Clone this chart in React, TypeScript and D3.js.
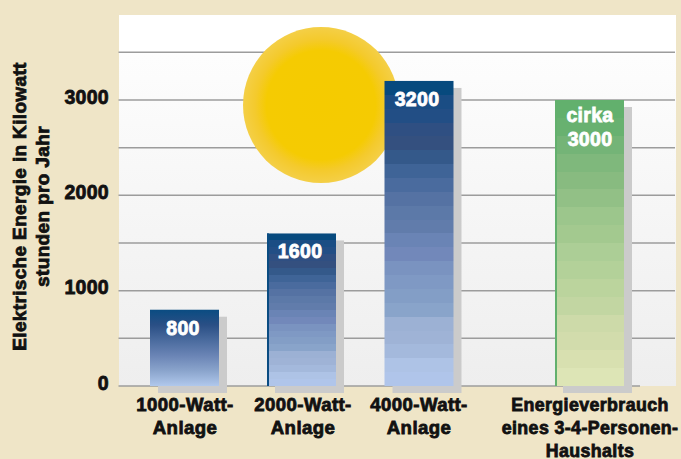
import React from "react";
import * as d3 from "d3";

const WIDTH = 681;
const HEIGHT = 459;

// Yearly output of three PV system sizes against household consumption (kWh)
const categories = ["1000-Watt", "2000-Watt", "4000-Watt", "Verbrauch"];
const values = [800, 1600, 3200, 3000];
const valueLabels = [["800"], ["1600"], ["3200"], ["cirka", "3000"]];
const categoryLabels = [
  ["1000-Watt-", "Anlage"],
  ["2000-Watt-", "Anlage"],
  ["4000-Watt-", "Anlage"],
  ["Energieverbrauch", "eines 3-4-Personen-", "Haushalts"],
];
const categoryFontSizes = [18.6, 18.6, 18.6, 17.8];
const axisTicks = [0, 1000, 2000, 3000];
const gridStep = 500;
const gridMax = 3500;
const axisTitle = ["Elektrische Energie in Kilowatt", "stunden pro Jahr"];

const blueBands = [
  "#074a7e", "#1a4d84", "#224e85", "#2f4f82", "#34507f", "#34598a", "#3f6497", "#4a6b9e",
  "#5572a3", "#5c79a8", "#617cab", "#6a84b5", "#7288ba", "#7a93c0", "#7f99c4", "#839ec6",
  "#89a4ca", "#9cb1d4", "#9fb3d6", "#a4b9dc", "#aec3e6", "#b0c5ea",
];
const blueSmooth = ["#0a4c82", "#2a4f85", "#4a6b9e", "#6a84b5", "#8aa4cc", "#b0c8ec"];
const greenBands = [
  "#62b06d", "#68b170", "#74b477", "#7fb87c", "#88bb80", "#92c086", "#9cc68c", "#a3c98f",
  "#acce96", "#b3d199", "#bbd49d", "#c2d6a2", "#cddaa9", "#d2dcac", "#d8e0b0", "#dde5b6",
];
const barFills = ["url(#blueSoft)", "url(#blueSteps)", "url(#blueSteps)", "url(#greenSteps)"];
const barEdges = [null, "#0a4c82", null, "#62b06d"];

const yScale = d3.scaleLinear().domain([0, 3000]).range([386, 100]);
const xScale = d3.scaleOrdinal<string, number>().domain(categories).range([184.5, 301.5, 419, 589.5]);
const labelX = d3.scaleOrdinal<string, number>().domain(categories).range([185, 303, 419, 590]);
const valueX = d3.scaleOrdinal<string, number>().domain(categories).range([183, 300, 417, 590]);
const barWidth = 69;

const font = "'Liberation Sans', Arial, sans-serif";
const heavy = (fill: string, size: number): React.CSSProperties => ({
  fontFamily: font,
  fontWeight: 700,
  fontSize: size,
  fill,
  stroke: fill,
  strokeWidth: 0.8,
  paintOrder: "stroke",
});

function Steps({ id, colors }: { id: string; colors: string[] }) {
  const edge = d3.scaleLinear().domain([0, colors.length]).range([0, 100]);
  return (
    <linearGradient id={id} x1="0" y1="0" x2="0" y2="1">
      {colors.flatMap((c, i) => [
        <stop key={`${i}a`} offset={`${edge(i)}%`} stopColor={c} />,
        <stop key={`${i}b`} offset={`${edge(i + 1)}%`} stopColor={c} />,
      ])}
    </linearGradient>
  );
}

function Smooth({ id, colors }: { id: string; colors: string[] }) {
  const at = d3.scaleLinear().domain([0, colors.length - 1]).range([0, 100]);
  return (
    <linearGradient id={id} x1="0" y1="0" x2="0" y2="1">
      {colors.map((c, i) => (
        <stop key={c} offset={`${at(i)}%`} stopColor={c} />
      ))}
    </linearGradient>
  );
}

export default function App() {
  const gridValues = d3.range(0, gridMax + 1, gridStep);
  return (
    <svg
      width={WIDTH}
      height={HEIGHT}
      viewBox={`0 0 ${WIDTH} ${HEIGHT}`}
      style={{ position: "fixed", left: 0, top: 0, display: "block" }}
    >
      <defs>
        <linearGradient id="panel" x1="0" y1="0" x2="0" y2="1">
          <stop offset="0%" stopColor="#ffffff" />
          <stop offset="10%" stopColor="#ffffff" />
          <stop offset="11%" stopColor="#fdfdfd" />
          <stop offset="100%" stopColor="#eeeeee" />
        </linearGradient>
        <radialGradient id="sun" cx="50%" cy="50%" r="50%">
          <stop offset="0%" stopColor="#f5cb00" />
          <stop offset="70%" stopColor="#f5cb02" />
          <stop offset="84%" stopColor="#f4ca2c" />
          <stop offset="100%" stopColor="#f4cf47" />
        </radialGradient>
        <clipPath id="sunClip">
          <rect x={230} y={15} width={190} height={168.5} />
        </clipPath>
        <Smooth id="blueSoft" colors={blueSmooth} />
        <Steps id="blueSteps" colors={blueBands} />
        <Steps id="greenSteps" colors={greenBands} />
      </defs>

      <rect width={WIDTH} height={HEIGHT} fill="#efe5c7" />
      <rect x={119} y={15} width={557} height={371} fill="url(#panel)" />

      {gridValues.map((v) => (
        <line
          key={v}
          x1={118.5}
          x2={v === 0 ? 640 : 675}
          y1={yScale(v)}
          y2={yScale(v)}
          stroke="#9c9c9c"
          strokeWidth={1.5}
        />
      ))}

      <circle cx={321} cy={105} r={78} fill="url(#sun)" clipPath="url(#sunClip)" />

      {categories.map((c, i) => {
        const x = xScale(c) - barWidth / 2;
        const y = yScale(values[i]);
        return (
          <g key={c}>
            <rect x={x + 8} y={y + 7} width={barWidth} height={yScale(0) - y} fill="#cbcbcb" />
            <rect x={x} y={y} width={barWidth} height={yScale(0) - y} fill={barFills[i]} />
            {barEdges[i] && <rect x={x} y={y} width={2} height={yScale(0) - y} fill={barEdges[i]!} />}
            {valueLabels[i].map((t, k) => (
              <text
                key={t}
                x={valueX(c)}
                y={y + (valueLabels[i].length > 1 ? 22 : 25) + k * 23.5}
                textAnchor="middle"
                style={{ ...heavy("#ffffff", 19.5), letterSpacing: 0.3 }}
              >
                {t}
              </text>
            ))}
            {categoryLabels[i].map((t, k) => (
              <text
                key={t}
                x={labelX(c)}
                y={411 + k * 23}
                textAnchor="middle"
                style={{ ...heavy("#111111", categoryFontSizes[i]), letterSpacing: 0.4 }}
              >
                {t}
              </text>
            ))}
          </g>
        );
      })}

      {axisTicks.map((t) => (
        <text key={t} x={109} y={yScale(t) + 3.6} textAnchor="end" style={{ ...heavy("#111111", 19.5), letterSpacing: 0.3 }}>
          {t}
        </text>
      ))}

      {axisTitle.map((t, k) => (
        <text
          key={t}
          transform={`translate(${25.5 + k * 23.5},206.5) rotate(-90)`}
          textAnchor="middle"
          style={{ ...heavy("#111111", 19), letterSpacing: 0.35 }}
        >
          {t}
        </text>
      ))}
    </svg>
  );
}
